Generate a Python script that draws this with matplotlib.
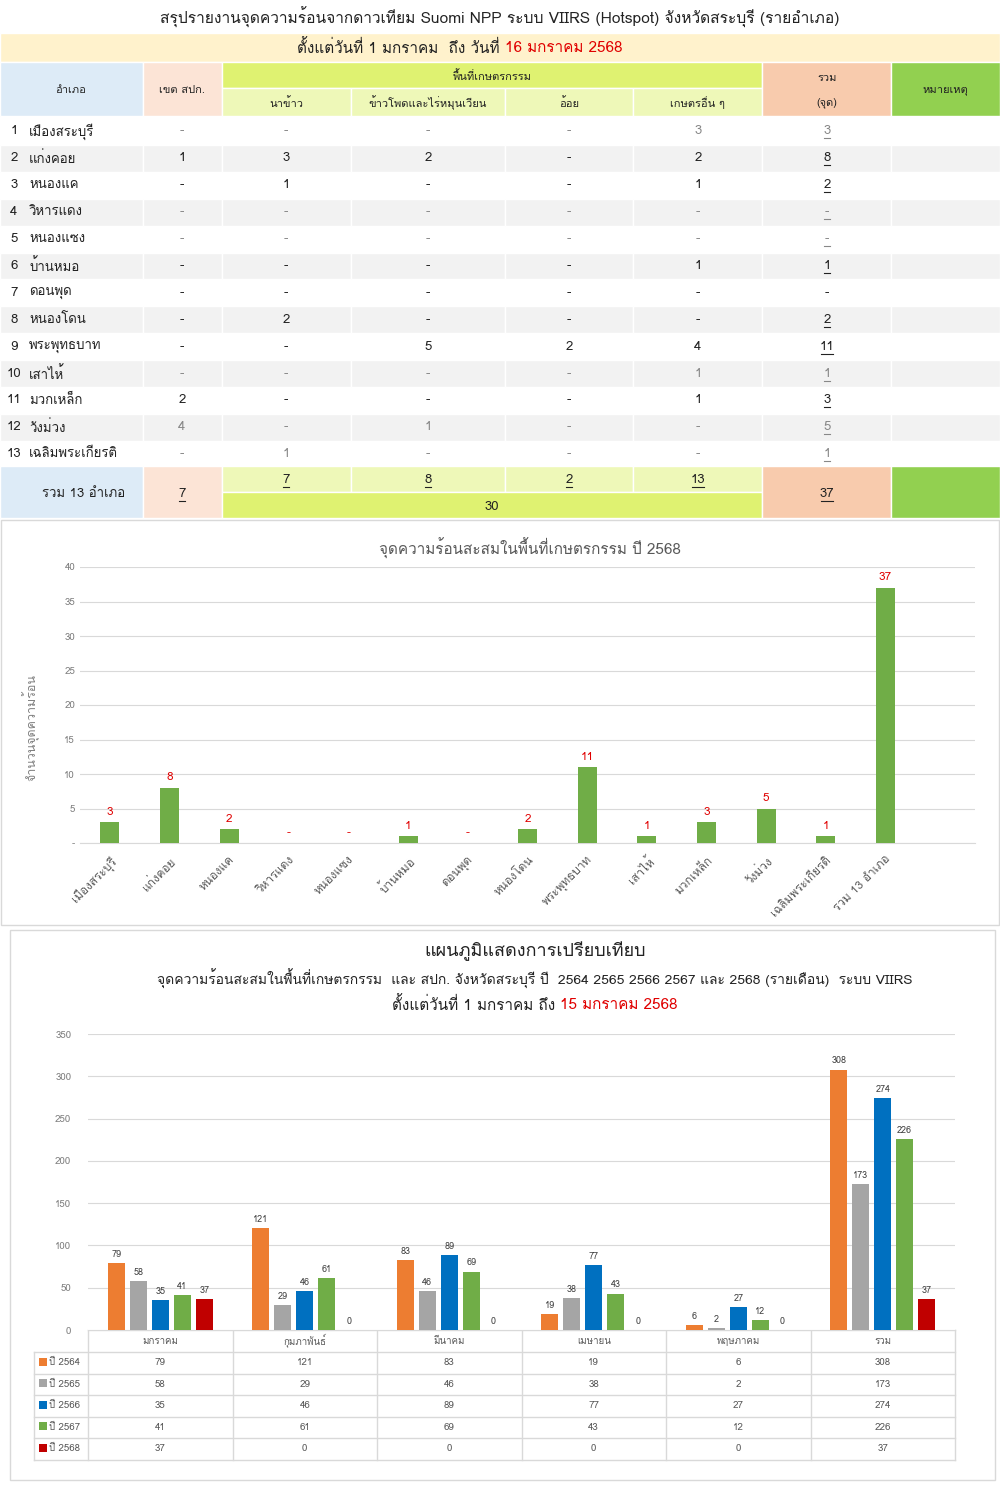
import numpy as np
import matplotlib as mpl
mpl.use('Agg')
import matplotlib.pyplot as plt
from matplotlib import font_manager as fm
from matplotlib.ft2font import FT2Font
from matplotlib.patches import Rectangle

# ---- data --------------------------------------------------------------
districts = ['เมืองสระบุรี', 'แก่งคอย', 'หนองแค', 'วิหารแดง', 'หนองแซง', 'บ้านหมอ',
             'ดอนพุด', 'หนองโดน', 'พระพุทธบาท', 'เสาไห้', 'มวกเหล็ก', 'วังม่วง',
             'เฉลิมพระเกียรติ']
spk   = [0, 1, 0, 0, 0, 0, 0, 0, 0, 0, 2, 4, 0]
rice  = [0, 3, 1, 0, 0, 0, 0, 2, 0, 0, 0, 0, 1]
corn  = [0, 2, 0, 0, 0, 0, 0, 0, 5, 0, 0, 1, 0]
cane  = [0, 0, 0, 0, 0, 0, 0, 0, 2, 0, 0, 0, 0]
other = [3, 2, 1, 0, 0, 1, 0, 0, 4, 1, 1, 0, 0]
dark_rows = [2, 3, 6, 7, 8, 9, 11]   # rows printed in bold black

months = ['มกราคม', 'กุมภาพันธ์', 'มีนาคม', 'เมษายน', 'พฤษภาคม', 'รวม']
years  = ['ปี 2564', 'ปี 2565', 'ปี 2566', 'ปี 2567', 'ปี 2568']
y2564 = [79, 121, 83, 19, 6, 308]
y2565 = [58, 29, 46, 38, 2, 173]
y2566 = [35, 46, 89, 77, 27, 274]
y2567 = [41, 61, 69, 43, 12, 226]
y2568 = [37, 0, 0, 0, 0, 37]
ycolors = ['#ED7D31', '#A5A5A5', '#0070C0', '#70AD47', '#C00000']

# ---- font with thai glyphs ---------------------------------------------
thai = []
for f in fm.fontManager.ttflist:
    try:
        if FT2Font(f.fname).get_char_index(0x0E01) and f.name not in thai:
            thai.append(f.name)
    except Exception:
        pass
plt.rcParams['font.family'] = thai[:1] + ['DejaVu Sans']

W, H = 1000, 1486
fig = plt.figure(figsize=(W/100, H/100), dpi=100)

def prect(x0, y0, x1, y1):
    return [x0/W, 1 - y1/H, (x1-x0)/W, (y1-y0)/H]

bg = fig.add_axes([0, 0, 1, 1])
bg.set_xlim(0, W)
bg.set_ylim(H, 0)
bg.axis('off')

def cell(x0, y0, x1, y1, c, ec='white'):
    bg.add_patch(Rectangle((x0, y0), x1-x0, y1-y0, fc=c, ec=ec, lw=1))

def txt(x, y, s, fs=9, c='#222222', ha='center', w='normal', ul=False):
    bg.text(x, y, s, fontsize=fs, color=c, ha=ha, va='center', fontweight=w)
    if ul:
        hw = 3.2*len(s)*fs/9.5
        bg.plot([x-hw, x+hw], [y+7, y+7], color=c, lw=0.8)

# ---- top table ---------------------------------------------------------
txt(500, 17, 'สรุปรายงานจุดความร้อนจากดาวเทียม Suomi NPP ระบบ VIIRS (Hotspot) จังหวัดสระบุรี (รายอำเภอ)', fs=11.2)
cell(0, 33, W, 62, '#FFF2CC')
bg.text(505, 48, 'ตั้งแต่วันที่ 1 มกราคม  ถึง วันที่ ', fontsize=11, ha='right', va='center', color='#222222')
bg.text(505, 48, '16 มกราคม 2568', fontsize=11, ha='left', va='center', color='#E00000')

cols = [0, 143, 222, 351, 505, 633, 762, 891, W]
cell(0, 62, 143, 116, '#DDEBF7')
cell(143, 62, 222, 116, '#FCE4D6')
cell(222, 62, 762, 88, '#DFF271')
for i in range(2, 6):
    cell(cols[i], 88, cols[i+1], 116, '#EEF8B8')
cell(762, 62, 891, 116, '#F8CBAD')
cell(891, 62, W, 116, '#92D050')
txt(71, 90, 'อำเภอ', fs=8)
txt(182, 90, 'เขต สปก.', fs=8)
txt(492, 76, 'พื้นที่เกษตรกรรม', fs=8)
for x, s in zip([286, 428, 569, 698], ['นาข้าว', 'ข้าวโพดและไร่หมุนเวียน', 'อ้อย', 'เกษตรอื่น ๆ']):
    txt(x, 103, s, fs=8)
txt(827, 78, 'รวม', fs=8)
txt(827, 103, '(จุด)', fs=8)
txt(945, 90, 'หมายเหตุ', fs=8)

rowh = 26.9
vals = np.array([spk, rice, corn, cane, other])
tot = vals.sum(axis=0)
centers = [182, 286, 428, 569, 698]
for r in range(13):
    y0 = 118 + r*rowh
    yc = y0 + rowh/2
    if r % 2 == 1:
        for i in range(len(cols)-1):
            cell(cols[i], y0, cols[i+1], y0+rowh, '#F2F2F2')
    dark = (r+1) in dark_rows
    vc = '#222222' if dark else '#888888'
    txt(14, yc, str(r+1), fs=9.5, c='#222222')
    txt(29, yc, districts[r], fs=9.5, c='#222222', ha='left')
    for k in range(5):
        v = vals[k][r]
        txt(centers[k], yc, str(v) if v else '-', fs=9.5, c=vc)
    txt(827, yc, str(tot[r]) if tot[r] else '-', fs=9.5, c=vc, ul=tot[r] > 0 or not dark)

# total row
cell(0, 466, 143, 518, '#DDEBF7')
cell(143, 466, 222, 518, '#FCE4D6')
for i in range(2, 6):
    cell(cols[i], 466, cols[i+1], 492, '#EEF8B8')
cell(222, 492, 762, 518, '#DFF271')
cell(762, 466, 891, 518, '#F8CBAD')
cell(891, 466, W, 518, '#92D050')
sums = vals.sum(axis=1)
txt(84, 494, 'รวม 13 อำเภอ', fs=9.5)
txt(182, 494, str(sums[0]), fs=9.5, ul=True)
for k in range(1, 5):
    txt(centers[k], 480, str(sums[k]), fs=9.5, ul=True)
txt(492, 507, str(sums[1:].sum()), fs=9.5)
txt(827, 494, str(sums.sum()), fs=9.5, ul=True)

# ---- chart 1 -----------------------------------------------------------
bg.add_patch(Rectangle((1, 520), W-2, 405, fc='none', ec='#D9D9D9', lw=1))
bg.text(530, 548, 'จุดความร้อนสะสมในพื้นที่เกษตรกรรม ปี 2568', fontsize=11, color='#595959', ha='center', va='center')
cats1 = districts + ['รวม 13 อำเภอ']
vals1 = list(tot) + [int(tot.sum())]
ax1 = fig.add_axes(prect(80, 567, 975, 843))
x1 = np.arange(len(cats1))
ax1.bar(x1, vals1, width=0.32, color='#70AD47', zorder=3)
for xi, v in zip(x1, vals1):
    ax1.annotate(str(v) if v else '-', (xi, v), xytext=(0, 4), textcoords='offset points',
                 ha='center', va='bottom', fontsize=8.5, color='#E00000')
ax1.set_xlim(-0.5, 14.5)
ax1.set_ylim(0, 40)
ax1.set_yticks(range(0, 41, 5))
ax1.set_yticklabels(['-'] + [str(v) for v in range(5, 41, 5)])
ax1.set_xticks(x1)
ax1.set_xticklabels(cats1, rotation=45, ha='right', rotation_mode='anchor')
ax1.tick_params(axis='both', length=0, colors='#7F7F7F', labelsize=7)
ax1.tick_params(axis='x', labelsize=8.5, pad=8, colors='#595959')
ax1.grid(axis='y', color='#D9D9D9', lw=0.8, zorder=0)
for s in ['top', 'right', 'left']:
    ax1.spines[s].set_visible(False)
ax1.spines['bottom'].set_color('#D9D9D9')
ax1.set_ylabel('จำนวนจุดความร้อน', fontsize=9, color='#7F7F7F')
ax1.yaxis.set_label_coords(-0.045, 0.42)

# ---- chart 2 -----------------------------------------------------------
bg.add_patch(Rectangle((10, 930), 985, 550, fc='none', ec='#D9D9D9', lw=1))
txt(535, 951, 'แผนภูมิแสดงการเปรียบเทียบ', fs=13)
txt(535, 979, 'จุดความร้อนสะสมในพื้นที่เกษตรกรรม  และ สปก. จังหวัดสระบุรี ปี  2564 2565 2566 2567 และ 2568 (รายเดือน)  ระบบ VIIRS', fs=10)
bg.text(560, 1005, 'ตั้งแต่วันที่ 1 มกราคม ถึง ', fontsize=11, ha='right', va='center', color='#222222')
bg.text(560, 1005, '15 มกราคม 2568', fontsize=11, ha='left', va='center', color='#E00000')

L2, R2 = 88, 955
ax2 = fig.add_axes(prect(L2, 1034, R2, 1330))
series = [y2564, y2565, y2566, y2567, y2568]
x2 = np.arange(len(months))
for i, (ser, c) in enumerate(zip(series, ycolors)):
    xs = x2 + (i-2)*0.152
    ax2.bar(xs, ser, width=0.118, color=c, zorder=3)
    for xi, v in zip(xs, ser):
        ax2.annotate(str(v), (xi, v), xytext=(0, 3), textcoords='offset points',
                     ha='center', va='bottom', fontsize=6.5, color='#404040')
ax2.set_xlim(-0.5, 5.5)
ax2.set_ylim(0, 350)
ax2.set_yticks(range(0, 351, 50))
ax2.set_xticks([])
ax2.tick_params(axis='y', length=0, colors='#7F7F7F', labelsize=7, pad=12)
ax2.grid(axis='y', color='#D9D9D9', lw=0.8, zorder=0)
for s in ['top', 'right', 'left', 'bottom']:
    ax2.spines[s].set_visible(False)

# data table under chart 2
cw = (R2 - L2)/len(months)
ty = [1330, 1352, 1373.5, 1395, 1416.5, 1438, 1459.5]
lc = '#D9D9D9'
bg.plot([L2, R2], [ty[0], ty[0]], color=lc, lw=1)
for yy in ty[1:]:
    bg.plot([34, R2], [yy, yy], color=lc, lw=1)
bg.plot([34, 34], [ty[1], ty[-1]], color=lc, lw=1)
for j in range(len(months)+1):
    bg.plot([L2 + j*cw]*2, [ty[0], ty[-1]], color=lc, lw=1)
for j, m in enumerate(months):
    txt(L2 + (j+0.5)*cw, (ty[0]+ty[1])/2, m, fs=7, c='#595959')
for i, (ser, c) in enumerate(zip(series, ycolors)):
    yc = (ty[i+1]+ty[i+2])/2
    bg.add_patch(Rectangle((39, yc-5), 8, 8, fc=c, ec='none'))
    txt(49, yc, years[i], fs=7, c='#595959', ha='left')
    for j, v in enumerate(ser):
        txt(L2 + (j+0.5)*cw, yc, str(v), fs=7, c='#595959')

fig.savefig('out.png', dpi=100)
